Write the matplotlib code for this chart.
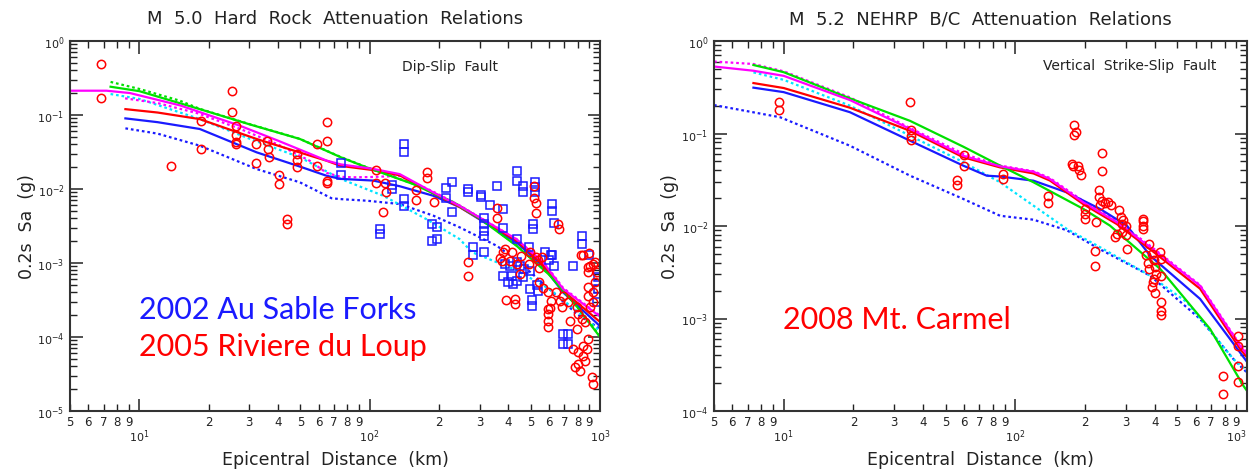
import numpy as np
import matplotlib
matplotlib.use('Agg')
import matplotlib.pyplot as plt
from matplotlib.ticker import FixedLocator, FuncFormatter, NullFormatter, LogLocator

plt.rcParams['font.family'] = ['DejaVu Sans']

# ---------------- Left panel: M 5.0 Hard Rock ----------------
# red circles (2005 Riviere du Loup)
left_red_dist = [6.8, 6.8, 13.7, 18.5, 18.5, 25.2, 25.2, 26.4, 26.4, 26.4, 26.4, 32.1, 32.1,
                 35.7, 36.3, 36.6, 40.5, 40.5, 43.6, 43.6, 48.5, 48.5, 48.5, 59.2, 59.2,
                 65.4, 65.4, 65.4, 65.4, 107, 107, 116, 118, 114, 159, 159, 178, 178, 190,
                 268, 268, 356, 356, 516, 516, 525, 525, 659, 665, 829, 904, 950, 386, 367,
                 427, 427, 567, 596, 596,
                 380, 406, 413, 456, 434, 496, 493, 449, 545, 596, 610, 605, 596, 596,
                 647, 692, 670, 728, 681, 791, 805, 832, 740, 859, 791, 766, 805, 845, 805,
                 778, 818, 859, 875, 845, 889, 919, 934, 845, 898, 889, 889, 934, 966, 889,
                 934, 889, 934, 904, 950, 560, 540, 375, 390, 530, 545]
left_red_sa = [0.49, 0.168, 0.0205, 0.082, 0.0347, 0.213, 0.109, 0.070, 0.054, 0.0428, 0.040, 0.0406, 0.0225,
               0.045, 0.0347, 0.0268, 0.0155, 0.0117, 0.0039, 0.0034, 0.0297, 0.0249, 0.0196, 0.0406, 0.0207,
               0.0797, 0.045, 0.0129, 0.0121, 0.0182, 0.0121, 0.0121, 0.0090, 0.0049, 0.0098, 0.0070, 0.0171, 0.0140, 0.0067,
               0.00104, 0.00066, 0.0055, 0.0041, 0.0109, 0.0075, 0.0065, 0.0047, 0.0034, 0.0029, 0.00128, 0.00092, 0.00102, 0.00155, 0.00116,
               0.00033, 0.00028, 0.000455, 0.00024, 0.000135,
               0.0014, 0.00107, 0.00141, 0.00126, 0.00097, 0.0014, 0.00097, 0.00071, 0.00055, 0.00040, 0.00031, 0.00025, 0.000205, 0.000166,
               0.00040, 0.00036, 0.00031, 0.000294, 0.000252, 0.000252, 0.000205, 0.000175, 0.000166, 0.000158, 0.000128, 6.9e-5, 6.2e-5, 5.6e-5, 4.3e-5,
               3.9e-5, 3.5e-5, 4.8e-5, 6.9e-5, 7.6e-5, 9.4e-5, 2.85e-5, 2.3e-5, 0.00128, 0.00137, 0.00087, 0.00075, 0.00097, 0.00075, 0.00047,
               0.00040, 0.00036, 0.000294, 0.000252, 0.00055, 0.0012, 0.0011, 0.00107, 0.00032, 0.0012, 0.00085]

# blue squares (2002 Au Sable Forks)
left_blue_dist = [74.8, 74.8, 124.5, 124.5, 141, 141, 141, 141, 110.7, 110.7, 214, 214, 227, 227,
                  186, 196, 186, 196, 268, 268, 303, 303, 333, 313, 313, 313, 313, 280, 280, 313,
                  356, 380, 380, 434, 434, 461, 461, 521, 521, 521, 514, 514, 617, 617, 630,
                  839, 839, 898, 613, 493, 434,
                  386, 406, 434, 380, 413, 400, 420, 434, 463, 470, 496, 449, 509, 509, 496,
                  531, 540, 575, 600, 620, 630, 692, 728, 692, 728, 982, 982, 966, 766]
left_blue_sa = [0.0225, 0.0155, 0.0113, 0.0100, 0.0406, 0.0313, 0.0073, 0.0059, 0.00288, 0.00247, 0.0102, 0.0076, 0.0123, 0.00484,
                0.00337, 0.00303, 0.0020, 0.0021, 0.0100, 0.0090, 0.0083, 0.0077, 0.0061, 0.00402, 0.00337, 0.00273, 0.0023, 0.00163, 0.00128, 0.00139,
                0.0111, 0.00537, 0.00294, 0.0177, 0.0130, 0.0111, 0.0090, 0.0123, 0.0105, 0.0090, 0.00337, 0.00288, 0.00627, 0.0051, 0.00347,
                0.0023, 0.00181, 0.00128, 0.00128, 0.00163, 0.0021,
                0.00097, 0.00092, 0.00102, 0.00067, 0.00067, 0.00055, 0.00052, 0.00058, 0.00064, 0.00083, 0.00079, 0.00092, 0.00032, 0.000265, 0.00045,
                0.00050, 0.00042, 0.0014, 0.0011, 0.0013, 0.0009, 0.00011, 0.00011, 8.0e-5, 8.0e-5, 0.00064, 0.00045, 0.000294, 0.00091]

# attenuation curves (left)
lg_sol_d = [7.5, 10, 18.3, 30, 49.8, 75, 97, 154, 230, 300, 434, 600, 800, 1000]
lg_sol_v = [0.241, 0.21, 0.12, 0.075, 0.0474, 0.0268, 0.0196, 0.0117, 0.0066, 0.0040, 0.00171, 0.0007, 0.00025, 0.0001]
lg_dot_d = [7.5, 10, 15, 18.3, 30, 49.8, 75, 97, 154, 230, 300, 434, 600, 800, 1000]
lg_dot_v = [0.28, 0.225, 0.156, 0.121, 0.0755, 0.0476, 0.027, 0.0197, 0.0118, 0.0067, 0.0041, 0.00173, 0.00071, 0.000255, 0.000102]
lm_sol_d = [5, 7.2, 9.1, 15, 27.3, 40, 55, 65, 75, 103.6, 135, 189, 246, 434, 567, 692, 966, 1000]
lm_sol_v = [0.213, 0.213, 0.198, 0.135, 0.0717, 0.045, 0.030, 0.0242, 0.0215, 0.0187, 0.0159, 0.0090, 0.0059, 0.0021, 0.00102, 0.000445, 0.000205, 0.00019]
lm_dot_d = [8.67, 12, 18, 27, 40, 55, 65, 75, 85, 100, 135, 189, 246, 434, 567, 692, 966, 1000]
lm_dot_v = [0.168, 0.145, 0.105, 0.066, 0.040, 0.024, 0.0165, 0.0146, 0.0144, 0.0145, 0.0150, 0.0092, 0.006, 0.0021, 0.00104, 0.00046, 0.00021, 0.000195]
lc_dot_d = [7.5, 10, 18.3, 30, 49.8, 74.8, 114.6, 176.6, 246, 278, 434, 600, 800, 1000]
lc_dot_v = [0.192, 0.165, 0.088, 0.048, 0.0268, 0.0137, 0.0081, 0.0039, 0.0021, 0.0014, 0.0008, 0.00045, 0.00022, 0.00012]
lr_sol_d = [8.7, 12, 18.3, 32.3, 50, 65, 75, 103.6, 135, 189, 246, 434, 567, 692, 966, 1000]
lr_sol_v = [0.12, 0.108, 0.088, 0.0474, 0.031, 0.0241, 0.0205, 0.0180, 0.0153, 0.0087, 0.0057, 0.002, 0.00095, 0.00042, 0.000175, 0.00016]
lb_sol_d = [8.7, 12, 18.3, 32.3, 50, 65, 74.8, 103.6, 135, 189, 246, 434, 567, 692, 966, 1000]
lb_sol_v = [0.090, 0.080, 0.0647, 0.0313, 0.020, 0.0151, 0.0137, 0.0130, 0.0109, 0.0081, 0.0057, 0.0019, 0.0009, 0.0004, 0.000155, 0.00014]
lb_dot_d = [8.7, 12, 18.3, 32.3, 49.8, 68.3, 74.8, 97, 135, 189, 246, 356, 434, 600, 800, 1000]
lb_dot_v = [0.066, 0.056, 0.0385, 0.0186, 0.0123, 0.0075, 0.0073, 0.00695, 0.00627, 0.00436, 0.00303, 0.00171, 0.0011, 0.00045, 0.0002, 0.00013]

# ---------------- Right panel: M 5.2 NEHRP B/C ----------------
right_red_dist = [9.57, 9.57, 35.1, 35.3, 35.3, 35.3, 60.3, 60.3, 56.2, 56.2, 88.7, 88.7, 138.8, 138.8,
                  179, 180, 183, 176, 178, 186, 188, 192, 236, 236, 230, 230, 236, 232, 244, 250, 258,
                  200, 200, 200, 224, 281, 285, 292, 290, 301, 357, 357, 290, 300, 275, 270, 303,
                  221, 221, 357, 357, 379, 365, 372, 378, 390, 395, 400, 405, 395, 392, 420, 425, 425,
                  390, 400, 426, 426, 426, 918, 918, 910, 910, 786, 786]
right_red_sa = [0.217, 0.181, 0.217, 0.110, 0.0947, 0.0857, 0.0586, 0.0449, 0.0317, 0.0277, 0.0365, 0.0322, 0.0209, 0.0177,
                0.124, 0.0964, 0.103, 0.047, 0.044, 0.045, 0.040, 0.036, 0.0615, 0.0396, 0.0247, 0.0204, 0.0186, 0.0170, 0.0178, 0.0184, 0.0170,
                0.0153, 0.0135, 0.0119, 0.0111, 0.0148, 0.0125, 0.0115, 0.0105, 0.0099, 0.0114, 0.0101, 0.0087, 0.0080, 0.0082, 0.0076, 0.0056,
                0.0054, 0.0037, 0.0119, 0.0093, 0.0064, 0.0048, 0.0040, 0.0034, 0.0050, 0.0043, 0.0036, 0.0030, 0.0027, 0.0025, 0.0052, 0.0044, 0.0029,
                0.0022, 0.0019, 0.0015, 0.0012, 0.0011, 0.00065, 0.00051, 0.00031, 0.000207, 0.00024, 0.000153]

rm_dot_d = [5, 7.4, 10, 19.3, 35, 60, 86, 120, 141, 197, 274, 382, 627, 933, 1000]
rm_dot_v = [0.60, 0.564, 0.47, 0.246, 0.115, 0.060, 0.045, 0.039, 0.033, 0.0185, 0.0113, 0.0061, 0.0023, 0.00052, 0.00043]
rm_sol_d = [5, 7.4, 10, 19.3, 35.1, 59.6, 85.9, 119.7, 141, 196.6, 274, 382, 627, 933, 1000]
rm_sol_v = [0.53, 0.477, 0.42, 0.23, 0.112, 0.0575, 0.0442, 0.0386, 0.0322, 0.018, 0.011, 0.0059, 0.00226, 0.000508, 0.00041]
rg_sol_d = [7.4, 10, 19.3, 35.1, 59.6, 85.9, 119.7, 196.6, 256, 422, 693, 964, 1000]
rg_sol_v = [0.55, 0.46, 0.24, 0.137, 0.072, 0.045, 0.0297, 0.0153, 0.0101, 0.00343, 0.00077, 0.000188, 0.000165]
rc_dot_d = [7.4, 10, 19.3, 35.1, 59.6, 85.9, 119.7, 166.7, 232, 382, 550, 873, 1000]
rc_dot_v = [0.458, 0.38, 0.2, 0.0947, 0.049, 0.0297, 0.0166, 0.0093, 0.0059, 0.0029, 0.0015, 0.000365, 0.00027]
rr_sol_d = [7.4, 10, 19.3, 35.1, 59.6, 85.9, 119.7, 141, 196.6, 274, 382, 627, 933, 1000]
rr_sol_v = [0.351, 0.31, 0.19, 0.107, 0.0553, 0.043, 0.037, 0.031, 0.0172, 0.0105, 0.0056, 0.0021, 0.00047, 0.00038]
rb_sol_d = [7.4, 10, 19.3, 35.1, 59.6, 75.2, 85.9, 119.7, 166.7, 232, 303, 382, 627, 933, 1000]
rb_sol_v = [0.313, 0.28, 0.17, 0.0836, 0.0449, 0.035, 0.0343, 0.0309, 0.0231, 0.0153, 0.0101, 0.00477, 0.00163, 0.00043, 0.00034]
rb_dot_d = [5, 9.64, 19.3, 35.1, 59.6, 85.9, 119.7, 166.7, 232, 382, 627, 873, 1000]
rb_dot_v = [0.203, 0.150, 0.0738, 0.035, 0.0196, 0.0129, 0.0117, 0.0090, 0.0056, 0.0029, 0.00099, 0.000365, 0.00026]

x_minor = [5, 6, 7, 8, 9, 20, 30, 40, 50, 60, 70, 80, 90, 200, 300, 400, 500, 600, 700, 800, 900]
x_major = [10, 100, 1000]

RED = '#ff0000'
BLUE = '#1a1aff'
GREEN = '#00e000'
MAG = '#ff00ff'
CYAN = '#00e5ff'
DOT = (0, (1.2, 1.3))

fig = plt.figure(figsize=(12.52, 4.77), dpi=100)
axL = fig.add_axes([70/1252, 65/477, 530/1252, 370/477])
axR = fig.add_axes([714/1252, 65/477, 533/1252, 370/477])


def style(ax, ymin, ymax):
    ax.set_xscale('log')
    ax.set_yscale('log')
    ax.set_xlim(5, 1000)
    ax.set_ylim(ymin, ymax)
    ax.xaxis.set_major_locator(FixedLocator(x_major))
    ax.xaxis.set_minor_locator(FixedLocator(x_minor))
    ax.xaxis.set_major_formatter(FuncFormatter(lambda v, p: r'$10^{%d}$' % int(round(np.log10(v)))))
    ax.xaxis.set_minor_formatter(FuncFormatter(lambda v, p: '%d' % int(round(v / 10 ** np.floor(np.log10(v) + 1e-9)))))
    ax.yaxis.set_major_locator(LogLocator(base=10, numticks=10))
    ax.yaxis.set_minor_locator(LogLocator(base=10, subs=np.arange(2, 10), numticks=20))
    ax.yaxis.set_minor_formatter(NullFormatter())
    ax.tick_params(axis='x', which='major', direction='in', length=9, width=1.1, top=True, pad=12, labelsize=8, colors='#222222')
    ax.tick_params(axis='x', which='minor', direction='in', length=5, width=1.0, top=True, pad=3, labelsize=8.5, colors='#222222')
    ax.tick_params(axis='y', which='major', direction='in', length=9, width=1.1, right=True, pad=4, labelsize=8, colors='#222222')
    ax.tick_params(axis='y', which='minor', direction='in', length=5, width=1.0, right=True, colors='#222222')
    for s in ax.spines.values():
        s.set_linewidth(1.5)
        s.set_color('#333333')


style(axL, 1e-5, 1)
style(axR, 1e-4, 1)

lw = 1.6
# left curves
axL.plot(lb_dot_d, lb_dot_v, color=BLUE, lw=lw, ls=DOT)
axL.plot(lc_dot_d, lc_dot_v, color=CYAN, lw=lw, ls=DOT)
axL.plot(lg_dot_d, lg_dot_v, color=GREEN, lw=lw, ls=DOT)
axL.plot(lm_dot_d, lm_dot_v, color=MAG, lw=lw, ls=DOT)
axL.plot(lb_sol_d, lb_sol_v, color=BLUE, lw=lw)
axL.plot(lr_sol_d, lr_sol_v, color=RED, lw=lw)
axL.plot(lg_sol_d, lg_sol_v, color=GREEN, lw=lw)
axL.plot(lm_sol_d, lm_sol_v, color=MAG, lw=lw)

axL.plot(left_blue_dist, left_blue_sa, ls='none', marker='s', ms=5.5, mfc='none', mec=BLUE, mew=1.1)
axL.plot(left_red_dist, left_red_sa, ls='none', marker='o', ms=6, mfc='none', mec=RED, mew=1.1)

# right curves
axR.plot(rb_dot_d, rb_dot_v, color=BLUE, lw=lw, ls=DOT)
axR.plot(rc_dot_d, rc_dot_v, color=CYAN, lw=lw, ls=DOT)
axR.plot(rm_dot_d, rm_dot_v, color=MAG, lw=lw, ls=DOT)
axR.plot(rb_sol_d, rb_sol_v, color=BLUE, lw=lw)
axR.plot(rr_sol_d, rr_sol_v, color=RED, lw=lw)
axR.plot(rg_sol_d, rg_sol_v, color=GREEN, lw=lw)
axR.plot(rm_sol_d, rm_sol_v, color=MAG, lw=lw)
axR.plot(right_red_dist, right_red_sa, ls='none', marker='o', ms=6, mfc='none', mec=RED, mew=1.1)

# texts
tfont = dict(fontsize=13, color='#222222')
fig.text(335/1252, 1 - 19/477, 'M  5.0  Hard  Rock  Attenuation  Relations', ha='center', va='center', **tfont)
fig.text(980/1252, 1 - 19/477, 'M  5.2  NEHRP  B/C  Attenuation  Relations', ha='center', va='center', **tfont)
lfont = dict(fontsize=12.5, color='#222222')
for xc in (335, 980):
    fig.text(xc/1252, 1 - 460/477, 'Epicentral  Distance  (km)', ha='center', va='center', **lfont)
for xc in (27, 670):
    fig.text(xc/1252, 1 - 227/477, '0.2s  Sa  (g)', ha='center', va='center', rotation=90, **lfont)

axL.text(0.717, 0.932, 'Dip-Slip  Fault', transform=axL.transAxes, ha='center', va='center', fontsize=10, color='#222222')
axR.text(0.78, 0.935, 'Vertical  Strike-Slip  Fault', transform=axR.transAxes, ha='center', va='center', fontsize=10, color='#222222')

big = dict(fontsize=22, family=['Lato', 'DejaVu Sans'])
axL.text(0.13, 0.276, '2002 Au Sable Forks', transform=axL.transAxes, ha='left', va='center', color='#1a1aff', **big)
axL.text(0.13, 0.176, '2005 Riviere du Loup', transform=axL.transAxes, ha='left', va='center', color='#ff0000', **big)
axR.text(0.13, 0.249, '2008 Mt. Carmel', transform=axR.transAxes, ha='left', va='center', color='#ff0000', **big)

fig.canvas.draw()
majR = axR.xaxis.get_major_ticks()
if majR:
    majR[-1].label1.set_horizontalalignment('right')

fig.savefig('out.png', dpi=100)
